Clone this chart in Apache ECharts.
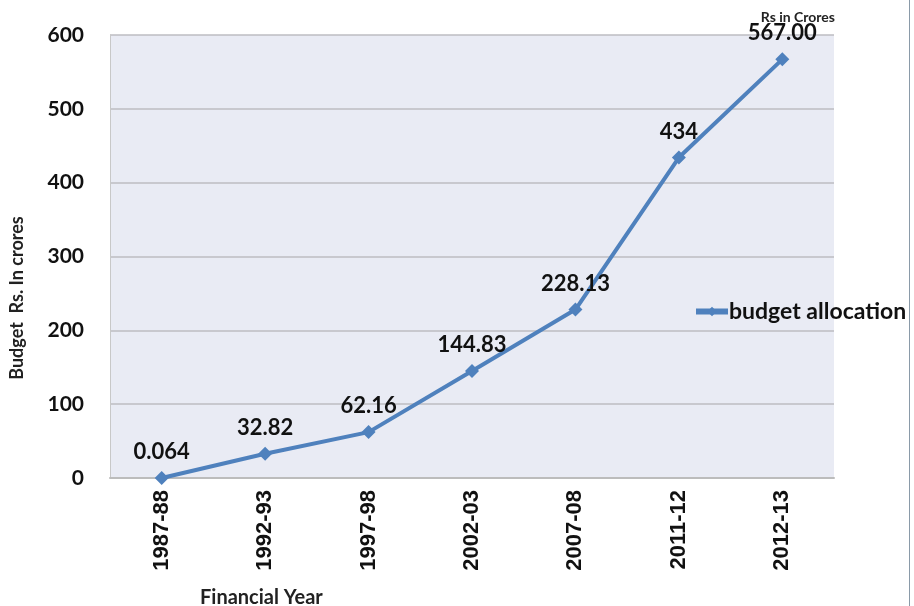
<!DOCTYPE html>
<html><head><meta charset="utf-8">
<script src="https://cdn.jsdelivr.net/npm/echarts@6/dist/echarts.min.js"></script>
<style>html,body{margin:0;padding:0;background:#fff}#c{width:914px;height:606px}</style>
</head><body><div id="c"></div>
<script>
const categories = ['1987-88','1992-93','1997-98','2002-03','2007-08','2011-12','2012-13'];
const values = [0.064, 32.82, 62.16, 144.83, 228.13, 434, 567.00];
const valueLabels = ['0.064','32.82','62.16','144.83','228.13','434','567.00'];
const seriesName = 'budget allocation';

const chart = echarts.init(document.getElementById('c'));
chart.setOption({
  animation: false,
  backgroundColor: '#ffffff',
  title: {
    text: 'Rs in Crores', right: 74, top: 5,
    textStyle: {fontFamily: 'Lato', fontWeight: 'bold', fontSize: 14, color: '#222'}
  },
  legend: {
    data: [seriesName], left: 688, top: 295, orient: 'vertical',
    itemWidth: 32, itemHeight: 12, itemGap: 4,
    lineStyle: {width: 6, color: '#4f81bd'},
    itemStyle: {color: '#4f81bd'},
    textStyle: {fontFamily: 'Lato', fontWeight: 'bold', fontSize: 23, color: '#111', padding: [0, 0, 0, -4]}
  },
  grid: {left: 110, right: 80, top: 35, bottom: 128, containLabel: false, outerBoundsMode: 'none',
    show: true, backgroundColor: '#e9ebf4', borderWidth: 0},
  xAxis: {
    type: 'category', data: categories, boundaryGap: true,
    name: 'Financial Year', nameLocation: 'start', nameGap: 15,
    nameTextStyle: {fontFamily: 'Lato', fontWeight: 'bold', fontSize: 20, color: '#222',
      align: 'left', verticalAlign: 'top', padding: [110, 0, 0, 105]},
    axisLine: {lineStyle: {color: '#bcbcbc', width: 2}},
    axisTick: {show: false},
    axisLabel: {rotate: 90, margin: 12, fontFamily: 'Liberation Sans', fontWeight: 'bold', fontSize: 22, color: '#111'}
  },
  yAxis: {
    type: 'value', min: 0, max: 600, interval: 100,
    axisLine: {show: true, lineStyle: {color: '#c8c8c8', width: 1}},
    axisTick: {show: false},
    splitLine: {lineStyle: {color: '#bcbcc2', width: 1.5}},
    axisLabel: {margin: 26, fontFamily: 'Lato', fontWeight: 'bold', fontSize: 21, color: '#111'}
  },
  series: [{
    name: seriesName, type: 'line', data: values,
    symbol: 'diamond', symbolSize: 14,
    lineStyle: {color: '#4f81bd', width: 4},
    itemStyle: {color: '#4f81bd'},
    label: {show: true, position: 'top', distance: 8,
      formatter: p => valueLabels[p.dataIndex],
      fontFamily: 'Lato', fontWeight: 'bold', fontSize: 22, color: '#111'}
  }],
  graphic: [
    {type: 'line', shape: {x1: 909.5, y1: 0, x2: 909.5, y2: 606}, style: {stroke: '#8a9aa8', lineWidth: 1}},
    {type: 'text', x: 17, y: 298, rotation: Math.PI / 2,
      style: {text: 'Budget  Rs. In crores', fontFamily: 'Lato', fontWeight: 'bold', fontSize: 18,
        fill: '#222', textAlign: 'center', textVerticalAlign: 'middle'}}
  ]
});
</script>
</body></html>
